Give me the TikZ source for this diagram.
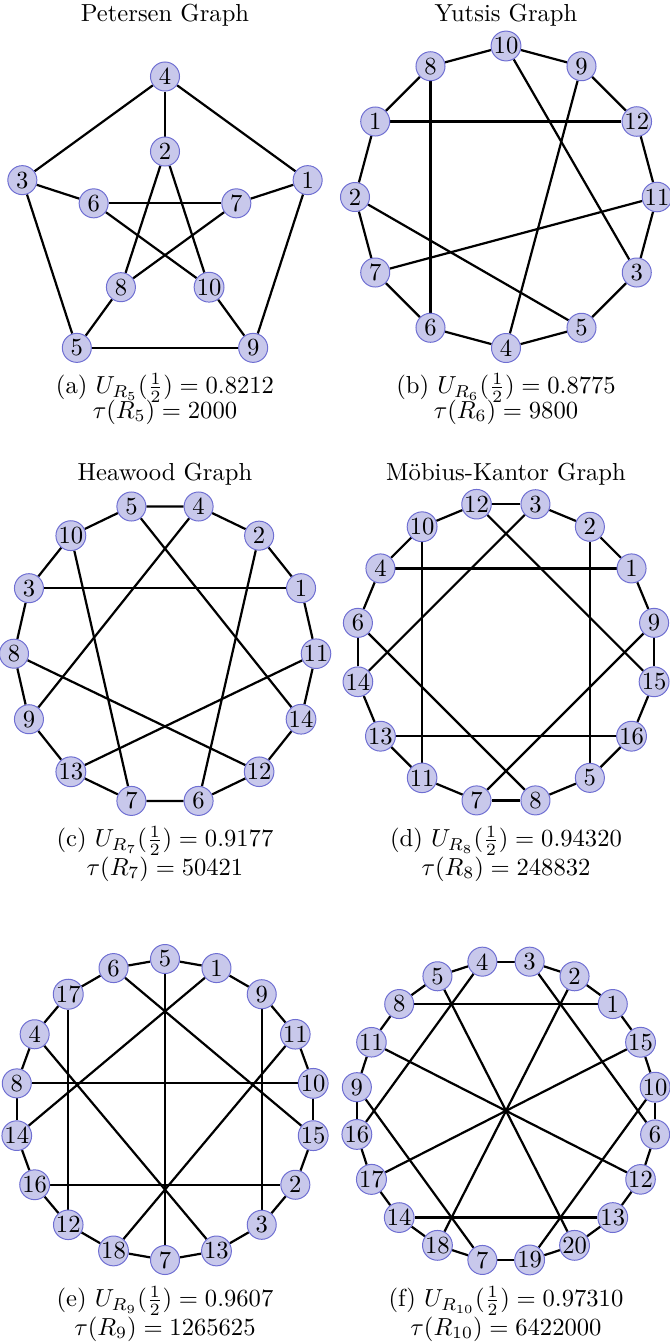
\documentclass[tikz,border=0pt]{standalone}
\usetikzlibrary{backgrounds}
\definecolor{nodefill}{RGB}{200,200,235}
\definecolor{nodeborder}{RGB}{110,110,210}
\begin{document}
\begin{tikzpicture}[x=0.4065pt,y=0.4065pt,
  vtx/.style={circle,draw=nodeborder,fill=nodefill,minimum size=11.8pt,inner sep=0pt},
  edge/.style={line width=0.9pt,black},
  ttl/.style={anchor=base,inner sep=0pt},
  captxt/.style={anchor=base,inner sep=0pt,align=center}]
\useasboundingbox (0,0) rectangle (670,-1344);

% ---------- (a) Petersen ----------
\node[ttl] (ta) at (165,-21) {Petersen Graph};
\begin{scope}[shift={(165,-226.5)}]
  \foreach \n/\a in {4/90,1/18,9/-54,5/-126,3/162}
    \node[vtx] (a\n) at (\a:150) {\n};
  \foreach \n/\a in {2/90,7/18,10/-54,8/-126,6/162}
    \node[vtx] (a\n) at (\a:75) {\n};
\end{scope}
\begin{scope}[on background layer]
  \foreach \u/\v in {4/1,1/9,9/5,5/3,3/4,4/2,1/7,9/10,5/8,3/6,2/8,2/10,6/7,6/10,7/8}
    \draw[edge] (a\u) -- (a\v);
\end{scope}
\node[captxt] (ca) at (165,-418) {(a) $U_{R_5}(\frac{1}{2}) = 0.8212$\\[-2.2pt]$\tau(R_5) = 2000$};

% ---------- (b) Yutsis ----------
\node[ttl] (tb) at (506,-21) {Yutsis Graph};
\begin{scope}[shift={(506,-197)}]
  \foreach \n/\a in {11/0,12/30,9/60,10/90,8/120,1/150,2/180,7/210,6/240,4/270,5/300,3/330}
    \node[vtx] (b\n) at (\a:151) {\n};
\end{scope}
\begin{scope}[on background layer]
  \foreach \u/\v in {10/9,9/12,12/11,11/3,3/5,5/4,4/6,6/7,7/2,2/1,1/8,8/10,8/6,1/12,10/3,9/4,2/5,7/11}
    \draw[edge] (b\u) -- (b\v);
\end{scope}
\node[captxt] (cb) at (506,-418) {(b) $U_{R_6}(\frac{1}{2}) = 0.8775$\\[-2.2pt]$\tau(R_6) = 9800$};

% ---------- (c) Heawood ----------
\node[ttl] (tc) at (165,-480) {Heawood Graph};
\begin{scope}[shift={(165,-653.7)}]
  \foreach \n [count=\k from 0] in {11,1,2,4,5,10,3,8,9,13,7,6,12,14}
    \node[vtx] (c\n) at ({\k*360/14}:151) {\n};
\end{scope}
\begin{scope}[on background layer]
  \foreach \u/\v in {5/4,4/2,2/1,1/11,11/14,14/12,12/6,6/7,7/13,13/9,9/8,8/3,3/10,10/5,5/14,4/9,10/7,2/6,3/1,8/12,11/13}
    \draw[edge] (c\u) -- (c\v);
\end{scope}
\node[captxt] (cc) at (165,-875) {(c) $U_{R_7}(\frac{1}{2}) = 0.9177$\\[-0.6pt]$\tau(R_7) = 50421$};

% ---------- (d) Moebius-Kantor ----------
\node[ttl] (td) at (506,-480) {M\"obius-Kantor Graph};
\begin{scope}[shift={(506,-652.3)}]
  \foreach \n [count=\k from 0] in {9,1,2,3,12,10,4,6,14,13,11,7,8,5,16,15}
    \node[vtx] (d\n) at ({11.25+\k*22.5}:151) {\n};
\end{scope}
\begin{scope}[on background layer]
  \foreach \u/\v in {12/3,3/2,2/1,1/9,9/15,15/16,16/5,5/8,8/7,7/11,11/13,13/14,14/6,6/4,4/10,10/12,12/15,3/14,4/1,10/11,2/5,6/8,9/7,13/16}
    \draw[edge] (d\u) -- (d\v);
\end{scope}
\node[captxt] (cd) at (506,-875) {(d) $U_{R_8}(\frac{1}{2}) = 0.94320$\\[-0.6pt]$\tau(R_8) = 248832$};

% ---------- (e) R9 ----------
\begin{scope}[shift={(165,-1109.5)}]
  \foreach \n [count=\k from 0] in {10,11,9,1,5,6,17,4,8,14,16,12,18,7,13,3,2,15}
    \node[vtx] (e\n) at ({10+\k*20}:150.5) {\n};
\end{scope}
\begin{scope}[on background layer]
  \foreach \u/\v in {5/1,1/9,9/11,11/10,10/15,15/2,2/3,3/13,13/7,7/18,18/12,12/16,16/14,14/8,8/4,4/17,17/6,6/5,5/7,6/15,1/14,17/12,9/3,4/13,8/10,11/18,16/2}
    \draw[edge] (e\u) -- (e\v);
\end{scope}
\node[captxt] (ce) at (165,-1335) {(e) $U_{R_9}(\frac{1}{2}) = 0.9607$\\[-0.6pt]$\tau(R_9) = 1265625$};

% ---------- (f) R10 ----------
\begin{scope}[shift={(506,-1110.8)}]
  \foreach \n [count=\k from 0] in {10,15,1,2,3,4,5,8,11,9,16,17,14,18,7,19,20,13,12,6}
    \node[vtx] (f\n) at ({9+\k*18}:151) {\n};
\end{scope}
\begin{scope}[on background layer]
  \foreach \u/\v in {4/3,3/2,2/1,1/15,15/10,10/6,6/12,12/13,13/20,20/19,19/7,7/18,18/14,14/17,17/16,16/9,9/11,11/8,8/5,5/4,8/1,14/13,4/16,3/6,2/18,5/20,11/12,15/17,9/7,10/19}
    \draw[edge] (f\u) -- (f\v);
\end{scope}
\node[captxt] (cf) at (506,-1335) {(f) $U_{R_{10}}(\frac{1}{2}) = 0.97310$\\[-0.6pt]$\tau(R_{10}) = 6422000$};
\end{tikzpicture}
\end{document}
